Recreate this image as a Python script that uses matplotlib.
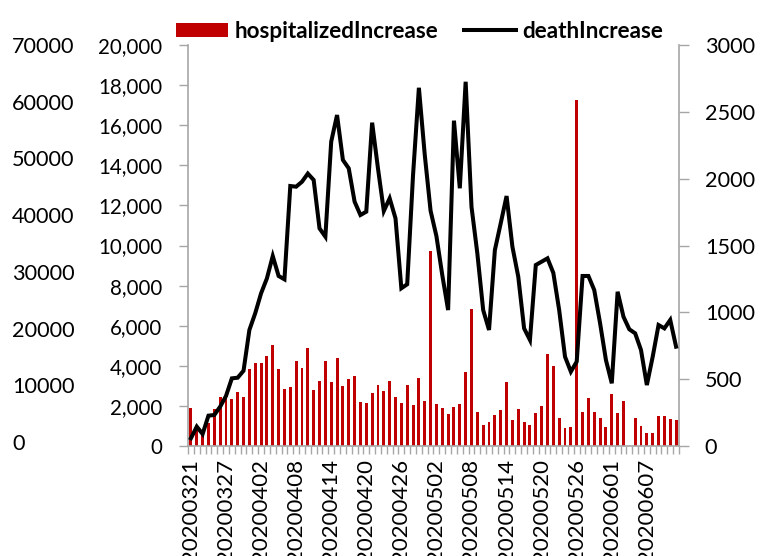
import matplotlib
matplotlib.use('Agg')
import matplotlib.pyplot as plt
from matplotlib.ticker import FuncFormatter
import numpy as np
import pandas as pd

# daily categories 20200321 .. 20200612
dates = pd.date_range('2020-03-21', '2020-06-12').strftime('%Y%m%d').tolist()

hospitalizedIncrease = [
    1880, 800, 650, 1150, 1850, 2450, 2450, 2360, 2710, 2460,
    3820, 4160, 4130, 4490, 5020, 3820, 2860, 2930, 4240, 3870,
    4880, 2780, 3240, 4240, 3210, 4370, 3010, 3360, 3490, 2180,
    2130, 2640, 3020, 2760, 3260, 2440, 2140, 3040, 2060, 3390,
    2250, 9730, 2110, 1900, 1600, 1950, 2080, 3690, 6830, 1700,
    1030, 1200, 1550, 1780, 3180, 1300, 1850, 1180, 1030, 1660,
    2000, 4590, 4010, 1380, 880, 950, 17260, 1700, 2380, 1700,
    1410, 930, 2610, 1660, 2230, 0, 1410, 980, 650, 650,
    1500, 1500, 1350, 1280,
]

deathIncrease = [
    58, 145, 90, 227, 232, 294, 374, 506, 511, 563,
    868, 993, 1142, 1254, 1421, 1272, 1247, 1945, 1940, 1977,
    2038, 1990, 1628, 1566, 2277, 2476, 2140, 2077, 1828, 1728,
    1753, 2419, 2077, 1758, 1853, 1703, 1180, 1210, 2027, 2680,
    2180, 1760, 1570, 1279, 1017, 2434, 1928, 2725, 1790, 1441,
    1017, 868, 1466, 1666, 1870, 1491, 1267, 880, 793, 1354,
    1379, 1404, 1295, 1017, 668, 556, 631, 1272, 1272, 1167,
    918, 643, 469, 1154, 967, 873, 843, 718, 456, 668,
    905, 880, 943, 743,
]

left_ticks = list(range(0, 20001, 2000))
right_ticks = list(range(0, 3001, 500))
outer_ticks = list(range(0, 70001, 10000))

FONT = 'Lato'
GREY = '#A6A6A6'
plt.rcParams['font.family'] = [FONT, 'DejaVu Sans']

fig = plt.figure(figsize=(7.61, 5.56), dpi=100)
W, H = 761, 556
ax = fig.add_axes([188 / W, 1 - 446 / H, (679 - 188) / W, (446 - 45) / H])

x = np.arange(len(dates))
bars = ax.bar(x, hospitalizedIncrease, width=0.5, color='#C00000',
              label='hospitalizedIncrease', zorder=2)
ax.set_xlim(-0.5, len(dates) - 0.5)
ax.set_ylim(0, 20000)
ax.set_yticks(left_ticks)
ax.yaxis.set_major_formatter(FuncFormatter(lambda v, p: f'{int(v):,}'))
ax.tick_params(axis='y', direction='out', length=6.5, width=1, color=GREY,
               labelsize=14.8, pad=12)

# date labels every 6 days, tick marks between every category
ax.set_xticks(x[::6])
ax.set_xticklabels(dates[::6], rotation=90, fontsize=16)
ax.set_xticks(np.arange(-0.5, len(dates), 1), minor=True)
ax.tick_params(axis='x', which='major', length=0, pad=9)
ax.tick_params(axis='x', which='minor', length=6, width=1, color=GREY)

for s in ['top', 'right']:
    ax.spines[s].set_visible(False)
for s in ['left', 'bottom']:
    ax.spines[s].set_color(GREY)
    ax.spines[s].set_linewidth(1.2)

# right axis: deaths
ax2 = ax.twinx()
line, = ax2.plot(x, deathIncrease, color='black', lw=2.9,
                 label='deathIncrease', solid_joinstyle='miter', zorder=3)
ax2.set_ylim(0, 3000)
ax2.set_yticks(right_ticks)
ax2.tick_params(axis='y', direction='out', length=7, width=1, color=GREY,
                labelsize=15.6, pad=11.5)
for s in ['top', 'left', 'bottom']:
    ax2.spines[s].set_visible(False)
ax2.spines['right'].set_color(GREY)
ax2.spines['right'].set_linewidth(1.2)

# outer left axis (labels only)
ax3 = ax.twinx()
ax3.set_ylim(-700, 69650)
ax3.set_yticks(outer_ticks)
ax3.yaxis.set_ticks_position('left')
ax3.tick_params(axis='y', which='both', left=True, right=False, labelleft=True,
                labelright=False, length=0, labelsize=15.6, pad=126.7)
plt.setp(ax3.get_yticklabels(), ha='left')
for s in ax3.spines.values():
    s.set_visible(False)

fig.legend(handles=[bars, line], labels=['hospitalizedIncrease', 'deathIncrease'],
           loc='center', bbox_to_anchor=(419.5 / W, 1 - 31.5 / H), ncol=2,
           frameon=False, prop={'family': FONT, 'weight': 'bold', 'size': 16.2},
           handlelength=2.3, handleheight=0.62, handletextpad=0.27,
           columnspacing=1.16, borderaxespad=0, borderpad=0)

fig.savefig('out.png', dpi=100)
